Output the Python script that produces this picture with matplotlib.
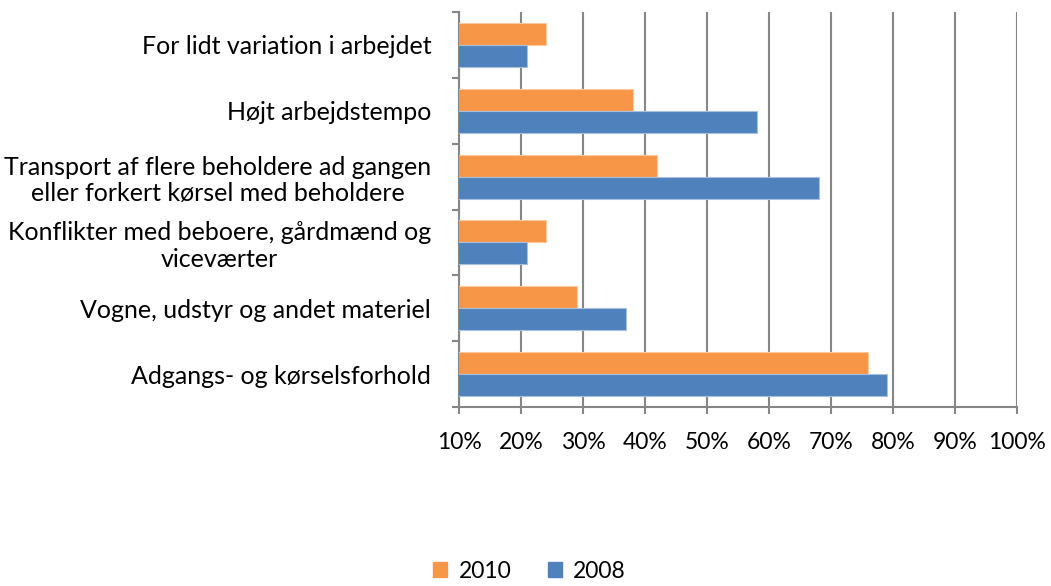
import numpy as np
import matplotlib.pyplot as plt
from matplotlib.patches import Patch

# Kategorier (fra toppen og ned)
kategorier = [
    "For lidt variation i arbejdet",
    "Højt arbejdstempo",
    "Transport af flere beholdere ad gangen\neller forkert kørsel med beholdere",
    "Konflikter med beboere, gårdmænd og\nviceværter",
    "Vogne, udstyr og andet materiel",
    "Adgangs- og kørselsforhold",
]
andel_2010 = [0.24, 0.38, 0.42, 0.24, 0.29, 0.76]
andel_2008 = [0.21, 0.58, 0.68, 0.21, 0.37, 0.79]
x_ticks = [0.1, 0.2, 0.3, 0.4, 0.5, 0.6, 0.7, 0.8, 0.9, 1.0]

orange = "#F79646"
blaa = "#4F81BD"
graa = "#868686"

plt.rcParams['font.family'] = ['Lato', 'DejaVu Sans']

fig = plt.figure(figsize=(10.51, 5.86), dpi=100)
ax = fig.add_axes([459 / 1051, 1 - 407 / 586, (1017 - 459) / 1051, (407 - 12) / 586])

n = len(kategorier)
y = np.arange(n)[::-1]  # øverste kategori får højeste y
h = 0.335
ax.barh(y + h / 2, andel_2010, height=h, color=orange, edgecolor="#FBC9A0", linewidth=0.8, zorder=3)
ax.barh(y - h / 2, andel_2008, height=h, color=blaa, edgecolor="#A7C0DE", linewidth=0.8, zorder=3)

ax.set_xlim(0.1, 1.0)
ax.set_ylim(-0.5, n - 0.5)
ax.set_xticks(x_ticks)
ax.set_xticklabels([f"{int(round(v * 100))}%" for v in x_ticks], fontsize=16.5)
ax.xaxis.grid(True, color=graa, linewidth=1.5, zorder=0)

# y-akse: streger ved grænserne, tekst i midten
ax.set_yticks(np.arange(n + 1) - 0.5)
ax.set_yticklabels([])
ax.set_yticks(y, minor=True)
ax.set_yticklabels(kategorier, minor=True, fontsize=18, multialignment="center", linespacing=1.2)
ax.tick_params(axis="y", which="minor", length=0, pad=20)
ax.tick_params(axis="y", which="major", length=5, color=graa, width=1.5, direction="out")
ax.tick_params(axis="x", length=5, color=graa, width=1.5, direction="out", pad=13)

for side in ["top", "right"]:
    ax.spines[side].set_visible(False)
for side in ["left", "bottom"]:
    ax.spines[side].set_color(graa)
    ax.spines[side].set_linewidth(1.5)

handles = [Patch(color=orange, label="2010"), Patch(color=blaa, label="2008")]
fig.legend(handles=handles, loc="lower center", bbox_to_anchor=(0.504, -0.028), ncol=2,
           frameon=False, fontsize=16.5, handlelength=0.6, handleheight=0.6,
           handletextpad=0.5, columnspacing=1.6)

fig.savefig("out.png", dpi=100)
